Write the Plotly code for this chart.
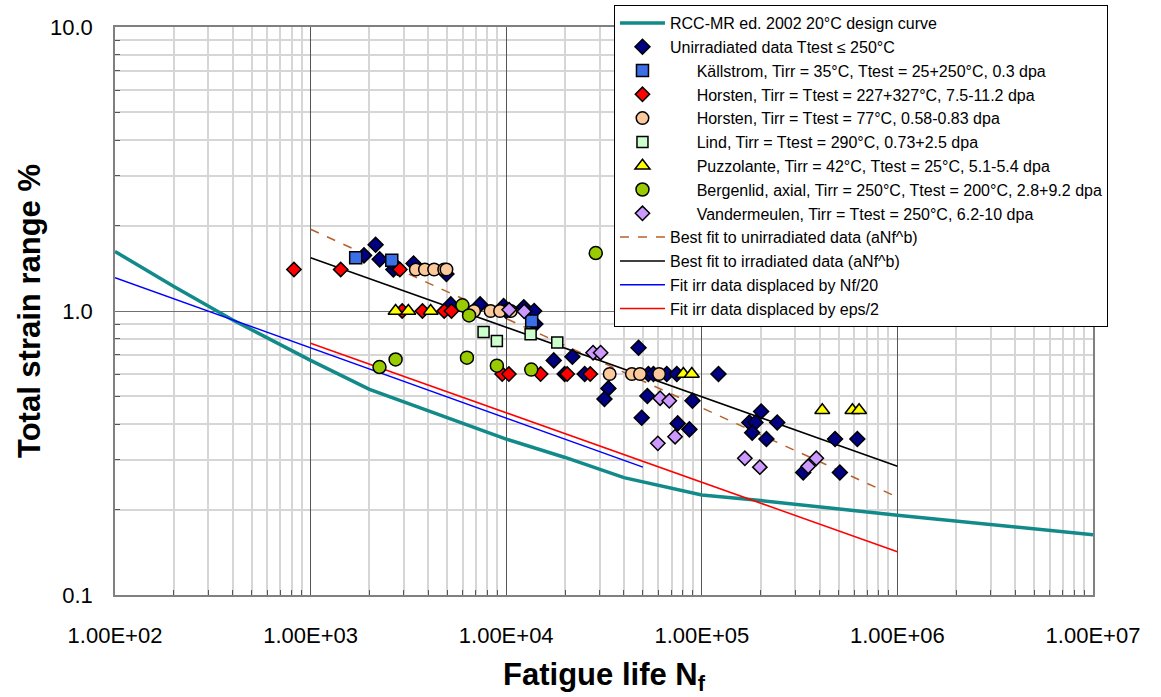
import plotly.graph_objects as go

# ---------------- data ----------------
design_N = [100, 200, 400, 1000, 2000, 4000, 10000, 20000, 40000, 100000, 200000, 1000000, 10000000]
design_eps = [1.62, 1.22, 0.93, 0.67, 0.53, 0.445, 0.354, 0.305, 0.259, 0.225, 0.215, 0.191, 0.163]

unirr_N = [2150, 1875, 2255, 2650, 2780, 3360, 4950, 5210, 7360, 9700, 10000, 12300, 13900, 14100,
           17500, 21800, 19900, 25200, 33300, 31800, 47500, 53300, 56600, 66200, 74500, 121700,
           52700, 89600, 49300, 75300, 86400, 201000, 175000, 188000, 181000, 243000, 214000,
           480000, 624000, 330000, 508000]
unirr_eps = [1.71, 1.57, 1.52, 1.40, 1.42, 1.47, 1.35, 1.055, 1.055, 1.04, 1.0, 1.03, 1.0, 0.90,
             0.67, 0.69, 0.60, 0.60, 0.534, 0.49, 0.742, 0.60, 0.60, 0.60, 0.60, 0.60,
             0.502, 0.483, 0.421, 0.402, 0.383, 0.443, 0.405, 0.405, 0.373, 0.405, 0.354,
             0.354, 0.354, 0.27, 0.27]

kall_N = [1700, 2600, 13500]
kall_eps = [1.54, 1.51, 0.922]

horsA_N = [822, 1425, 2860, 2940, 3730, 4820, 5250, 9540, 10320, 15000, 20500, 26900]
horsA_eps = [1.40, 1.40, 1.40, 1.0, 1.0, 1.0, 1.0, 0.60, 0.60, 0.60, 0.60, 0.60]

horsB_N = [3450, 3840, 4280, 4820, 4950, 6850, 8320, 9300, 10560, 33800, 43900, 48300, 60500]
horsB_eps = [1.40, 1.40, 1.40, 1.40, 1.40, 1.0, 1.0, 1.0, 1.0, 0.60, 0.60, 0.60, 0.60]

lind_N = [7660, 8960, 13330, 18240]
lind_eps = [0.844, 0.784, 0.828, 0.774]

puzz_N = [2720, 3160, 4110, 80500, 88900, 413000, 589000, 637000]
puzz_eps = [1.0, 1.0, 1.0, 0.60, 0.60, 0.447, 0.447, 0.447]

berg_N = [2250, 2720, 5970, 6460, 6300, 8960, 13430, 28700]
berg_eps = [0.635, 0.675, 1.047, 0.965, 0.685, 0.642, 0.622, 1.60]

vand_N = [10350, 12360, 27800, 30400, 61200, 68200, 73000, 59600, 166000, 198000, 385000, 350000]
vand_eps = [1.01, 0.997, 0.713, 0.713, 0.493, 0.483, 0.361, 0.342, 0.303, 0.282, 0.303, 0.284]

fit_unirr_N = [1000, 1000000]
fit_unirr_eps = [1.94, 0.221]
fit_irr_N = [1000, 1000000]
fit_irr_eps = [1.54, 0.284]
fit_nf20_N = [100, 50000]
fit_nf20_eps = [1.31, 0.282]
fit_eps2_N = [1000, 1000000]
fit_eps2_eps = [0.77, 0.142]

x_tick_vals = [1e2, 1e3, 1e4, 1e5, 1e6, 1e7]
x_tick_text = ["1.00E+02", "1.00E+03", "1.00E+04", "1.00E+05", "1.00E+06", "1.00E+07"]
y_tick_vals = [0.1, 1, 10]
y_tick_text = ["0.1", "1.0", "10.0"]

# ---------------- figure ----------------
FONT = "Arial, 'Liberation Sans', sans-serif"
IND = "\u00a0" * 6

fig = go.Figure()

# lines first (drawn beneath markers), ordered in legend with legendrank
fig.add_trace(go.Scatter(x=design_N, y=design_eps, mode="lines", name="RCC-MR ed. 2002 20°C design curve",
                         line=dict(color="#128a8a", width=3.5), legendrank=1))
fig.add_trace(go.Scatter(x=fit_unirr_N, y=fit_unirr_eps, mode="lines", name="Best fit to unirradiated data (aNf^b)",
                         line=dict(color="#b8602c", width=1.5, dash="dash"), legendrank=10))
fig.add_trace(go.Scatter(x=fit_irr_N, y=fit_irr_eps, mode="lines", name="Best fit to irradiated data (aNf^b)",
                         line=dict(color="black", width=1.5), legendrank=11))
fig.add_trace(go.Scatter(x=fit_nf20_N, y=fit_nf20_eps, mode="lines", name="Fit irr data displaced by Nf/20",
                         line=dict(color="#0000ff", width=1.5), legendrank=12))
fig.add_trace(go.Scatter(x=fit_eps2_N, y=fit_eps2_eps, mode="lines", name="Fit irr data displaced by eps/2",
                         line=dict(color="#ff0000", width=1.5), legendrank=13))

mk_line = dict(color="black", width=1.5)
series = [
    (unirr_N, unirr_eps, "Unirradiated data Ttest ≤ 250°C", "diamond", "#000080", 11.5, 2),
    (kall_N, kall_eps, IND + "Källstrom, Tirr = 35°C, Ttest = 25+250°C, 0.3 dpa", "square", "#3a6fe8", 12, 3),
    (horsA_N, horsA_eps, IND + "Horsten, Tirr = Ttest = 227+327°C, 7.5-11.2 dpa", "diamond", "#ff0000", 11, 4),
    (horsB_N, horsB_eps, IND + "Horsten, Tirr = Ttest = 77°C, 0.58-0.83 dpa", "circle", "#fcc99c", 12.5, 5),
    (lind_N, lind_eps, IND + "Lind, Tirr = Ttest = 290°C, 0.73+2.5 dpa", "square", "#ccffcc", 11, 6),
    (puzz_N, puzz_eps, IND + "Puzzolante, Tirr = 42°C, Ttest = 25°C, 5.1-5.4 dpa", "triangle-up", "#ffff00", 13, 7),
    (berg_N, berg_eps, IND + "Bergenlid, axial, Tirr = 250°C, Ttest = 200°C, 2.8+9.2 dpa", "circle", "#99cc00", 13, 8),
    (vand_N, vand_eps, IND + "Vandermeulen, Tirr = Ttest = 250°C, 6.2-10 dpa", "diamond", "#cc99ff", 11, 9),
]
for xs, ys, name, sym, col, sz, rank in series:
    fig.add_trace(go.Scatter(x=xs, y=ys, mode="markers", name=name, legendrank=rank,
                             marker=dict(symbol=sym, color=col, size=sz, line=mk_line)))

x_minor = [k * 10 ** e for e in range(2, 7) for k in range(2, 10)]
y_minor = [k * 10 ** e for e in range(-1, 1) for k in range(2, 10)]

fig.update_xaxes(type="log", range=[2, 7], tickvals=x_tick_vals, ticktext=x_tick_text, automargin=False,
                 tickfont=dict(family=FONT, size=22, color="black"), ticks="", ticklabelstandoff=20,
                 showgrid=True, gridcolor="#555555", gridwidth=1,
                 showline=True, linecolor="#808080", linewidth=1.5, mirror=True, zeroline=False,
                 minor=dict(tickvals=x_minor, showgrid=True, gridcolor="#d6d6d6", gridwidth=1.5,
                            ticks="inside", ticklen=5, tickcolor="#555555"),
                 title=dict(text="<b>Fatigue life N<sub>f</sub></b>", font=dict(family=FONT, size=31, color="black"),
                            standoff=16))
fig.update_yaxes(type="log", range=[-1, 1], tickvals=y_tick_vals, ticktext=y_tick_text, automargin=False,
                 domain=[0, 568 / 590],
                 tickfont=dict(family=FONT, size=22, color="black"), ticks="", ticklabelstandoff=16,
                 showgrid=True, gridcolor="#707070", gridwidth=1,
                 showline=True, linecolor="#808080", linewidth=1.5, mirror=True, zeroline=False,
                 minor=dict(tickvals=y_minor, showgrid=True, gridcolor="#d6d6d6", gridwidth=1.5,
                            ticks="inside", ticklen=5, tickcolor="#555555"),
                 title=dict(text="<b>Total strain range %</b>", font=dict(family=FONT, size=31, color="black"),
                            standoff=0))

fig.update_layout(
    width=1161, height=697,
    margin=dict(l=115, r=68, t=5, b=102, autoexpand=False),
    plot_bgcolor="white", paper_bgcolor="white",
    font=dict(family=FONT, color="black"),
    legend=dict(x=0.5102, y=1.0, xanchor="left", yanchor="top",
                bgcolor="white", bordercolor="black", borderwidth=1,
                font=dict(family=FONT, size=16, color="black"),
                itemwidth=45, tracegroupgap=0),
    showlegend=True,
)

fig.write_html("out.html", config={"displayModeBar": False},
               post_script="document.body.style.margin='0px';")
